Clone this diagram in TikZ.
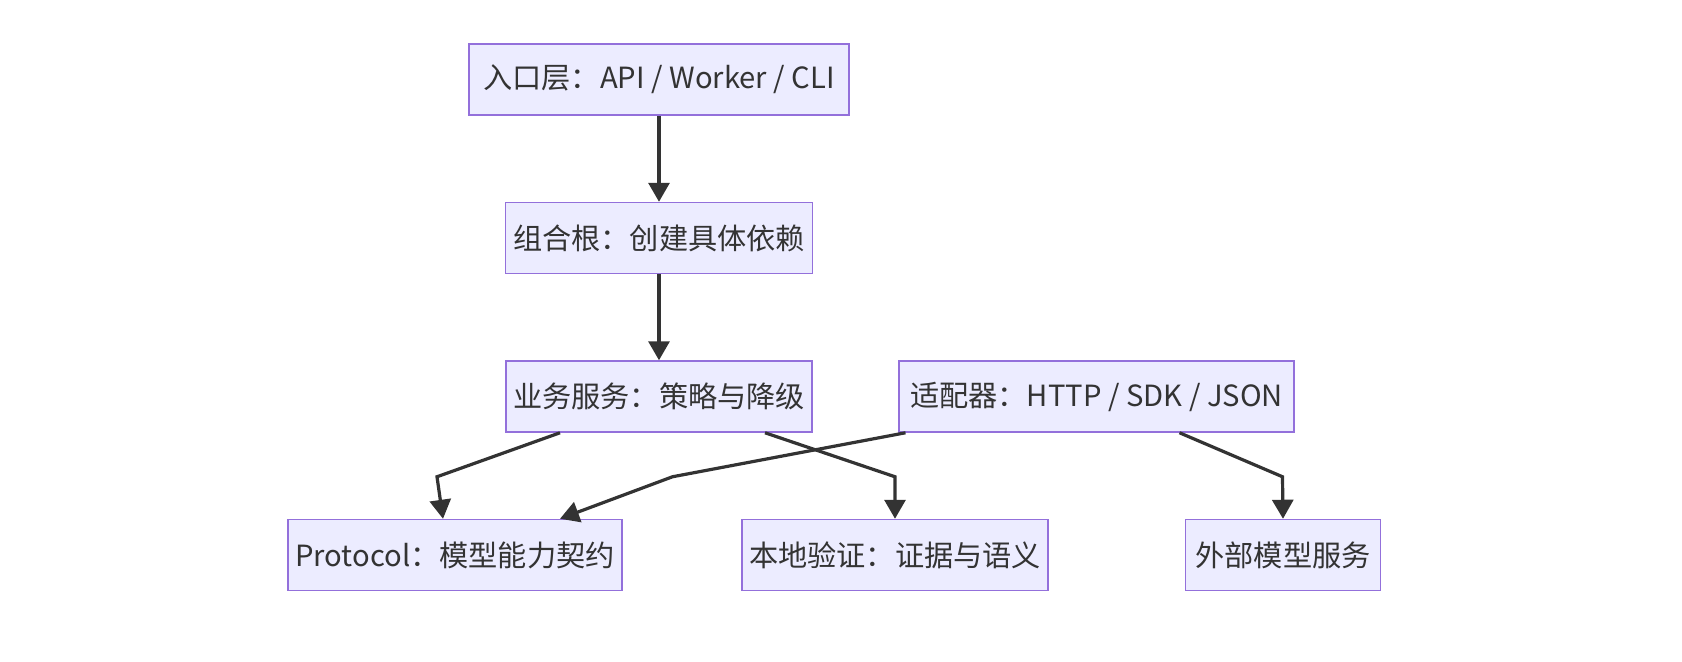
\documentclass[tikz,border=0pt]{standalone}
\usepackage{fontspec}
\newfontfamily\cjk{Noto Sans CJK SC}
\usepackage{tikz}
\usetikzlibrary{positioning, arrows.meta, calc}

\definecolor{boxfill}{HTML}{ECECFF}
\definecolor{boxline}{HTML}{9370DB}
\definecolor{ink}{HTML}{333333}

\begin{document}
\begin{tikzpicture}[
    x=0.5pt, y=-0.5pt,
    box/.style={rectangle, draw=boxline, fill=boxfill, line width=0.75pt,
                minimum height=35.5pt, inner sep=0pt, text=ink,
                font=\cjk\fontsize{14.6}{17}\selectfont},
    arrow/.style={-{Triangle[length=9.5pt, width=10.5pt]}, line width=1.6pt, draw=ink}
]
    \useasboundingbox (0,0) rectangle (1682,661);

    % Top chain
    \node[box, minimum width=190pt] (entry) at (659, 79.5) {入口层：API / Worker / CLI};
    \node[box, minimum width=153.5pt] (root) at (659, 238) {组合根：创建具体依赖};
    \node[box, minimum width=153pt] (service) at (659, 396.5) {业务服务：策略与降级};

    % Adapter
    \node[box, minimum width=197.5pt] (adapter) at (1096.5, 396.5) {适配器：HTTP / SDK / JSON};

    % Bottom row
    \node[box, minimum width=167pt] (protocol) at (455, 555) {Protocol：模型能力契约};
    \node[box, minimum width=153pt] (verify) at (895, 555) {本地验证：证据与语义};
    \node[box, minimum width=97.5pt] (external) at (1283, 555) {外部模型服务};

    % Arrows
    \draw[arrow] (entry) -- (root);
    \draw[arrow] (root) -- (service);

    \draw[arrow] ($(service.south)+(-99,0)$) -- ($(service.south)+(-222,44)$)
        -- ($(protocol.north)+(-12,0)$);
    \draw[arrow] ($(service.south)+(106,0)$) -- ($(service.south)+(236,44)$)
        -- (verify.north);
    \draw[arrow] ($(adapter.south)+(-191,0)$) -- ($(adapter.south)+(-424,44)$)
        -- ($(protocol.north)+(105,0)$);
    \draw[arrow] ($(adapter.south)+(83,0)$) -- ($(adapter.south)+(186,44)$)
        -- (external.north);

\end{tikzpicture}
\end{document}
